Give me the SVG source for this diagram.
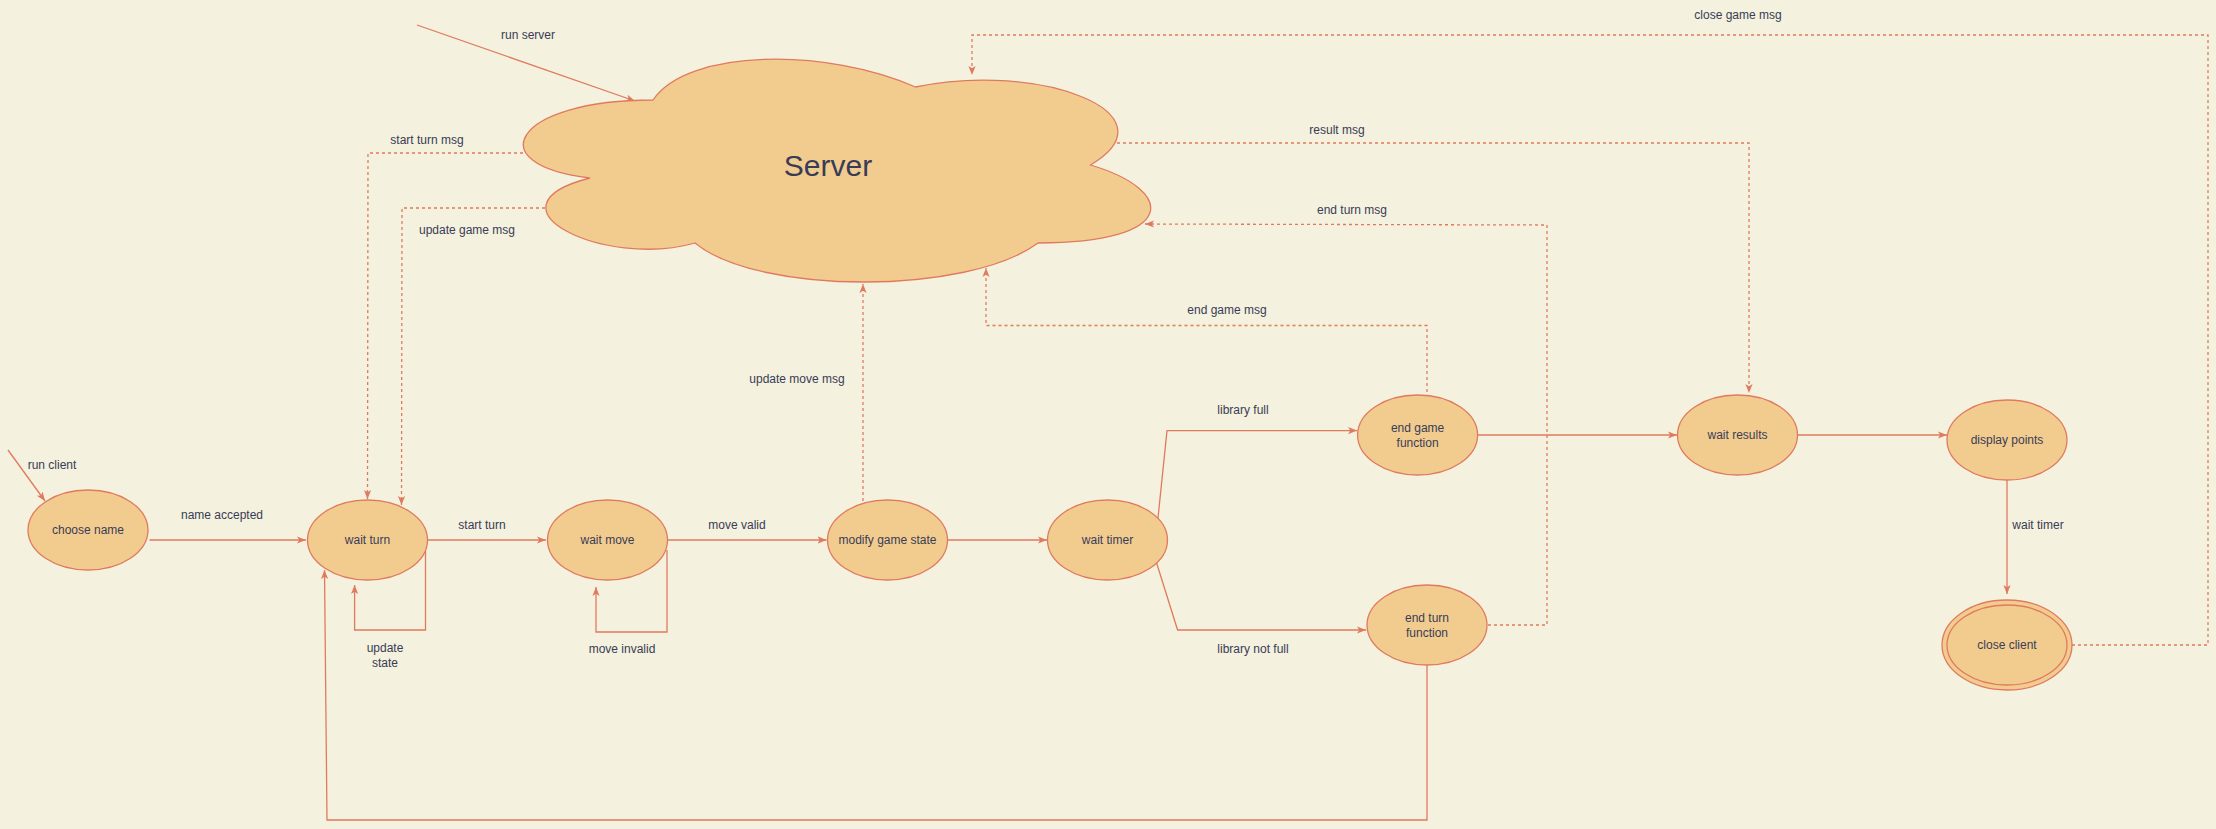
<svg xmlns="http://www.w3.org/2000/svg" width="2216" height="829" viewBox="0 0 2216 829">
<style>
.bg{fill:#F4F1DE}
.node{fill:#F2CC8F;stroke:#E07A5F;stroke-width:1.3}
.edge{fill:none;stroke:#E07A5F;stroke-width:1.3}
.dash{stroke-dasharray:3 3}
text{font-family:"Liberation Sans",Arial,sans-serif;font-size:12px;fill:#393C56;text-anchor:middle}
.big{font-size:30px}
</style>
<defs>
<marker id="arr" viewBox="0 0 10 10" refX="10" refY="5" markerWidth="9" markerHeight="9" markerUnits="userSpaceOnUse" orient="auto">
<path d="M0,1 L10,5 L0,9 L2.5,5 Z" fill="#E07A5F"/>
</marker>
</defs>
<rect class="bg" x="0" y="0" width="2216" height="829"/>

<g id="connectors">
<path class="edge" d="M417,25 L635,101" marker-end="url(#arr)"/>
<path class="edge" d="M8,450 L45,501" marker-end="url(#arr)"/>
<path class="edge" d="M149.5,540 L306,540" marker-end="url(#arr)"/>
<path class="edge" d="M425.5,551 L425.5,630 L354.6,630 L354.6,585" marker-end="url(#arr)"/>
<path class="edge" d="M427.5,540 L546,540" marker-end="url(#arr)"/>
<path class="edge" d="M667,550 L667,632 L596,632 L596,587" marker-end="url(#arr)"/>
<path class="edge" d="M667.3,540 L826.5,540" marker-end="url(#arr)"/>
<path class="edge" d="M947.4,540 L1047,540" marker-end="url(#arr)"/>
<path class="edge" d="M1158,518 L1167,430.6 L1357,430.6" marker-end="url(#arr)"/>
<path class="edge" d="M1156.6,563 L1177.6,630 L1366,630" marker-end="url(#arr)"/>
<path class="edge" d="M1477.6,435 L1677,435" marker-end="url(#arr)"/>
<path class="edge" d="M1797,435 L1947,435" marker-end="url(#arr)"/>
<path class="edge" d="M2007,480 L2007,594" marker-end="url(#arr)"/>
<path class="edge" d="M1427,665 L1427,820 L327,820 L324.5,570" marker-end="url(#arr)"/>

<path class="edge dash" d="M523,153 L368,153 L367.5,499" marker-end="url(#arr)"/>
<path class="edge dash" d="M545,208 L402,208 L401.5,505" marker-end="url(#arr)"/>
<path class="edge dash" d="M863,501 L863,284" marker-end="url(#arr)"/>
<path class="edge dash" d="M1427,392 L1427,325.5 L986,325.5 L986,268" marker-end="url(#arr)"/>
<path class="edge dash" d="M1488,625 L1547,625 L1547,225 L1145,224" marker-end="url(#arr)"/>
<path class="edge dash" d="M1117,143 L1749,143 L1749,393" marker-end="url(#arr)"/>
<path class="edge dash" d="M2072,645 L2208,645 L2208,35 L972,35 L972,75" marker-end="url(#arr)"/>

<text x="528" y="39">run server</text>
<text x="52" y="469">run client</text>
<text x="222" y="519">name accepted</text>
<text x="482" y="529">start turn</text>
<text x="737" y="529">move valid</text>
<text x="385" y="652">update</text>
<text x="385" y="667">state</text>
<text x="622" y="653">move invalid</text>
<text x="797" y="383">update move msg</text>
<text x="1227" y="314">end game msg</text>
<text x="1243" y="414">library full</text>
<text x="1253" y="653">library not full</text>
<text x="427" y="144">start turn msg</text>
<text x="467" y="234">update game msg</text>
<text x="1337" y="134">result msg</text>
<text x="1352" y="214">end turn msg</text>
<text x="1738" y="19">close game msg</text>
<text x="2038" y="529">wait timer</text>
</g>

<g id="server">
<path class="node" d="M653,100 C513,100 478,165 590,178 C478,206.6 604,269 695,243 C758,295 968,295 1038,243 C1178,243 1178,191 1090.5,165 C1178,113 1038,61 915.5,87 C828,48 688,48 653,100 Z"/>
<text class="big" x="828" y="176">Server</text>
</g>

<g id="choose-name">
<ellipse class="node" cx="88" cy="530" rx="60" ry="40"/>
<text x="88" y="534">choose name</text>
</g>
<g id="wait-turn">
<ellipse class="node" cx="367.5" cy="540" rx="60" ry="40"/>
<text x="367.5" y="544">wait turn</text>
</g>
<g id="wait-move">
<ellipse class="node" cx="607.5" cy="540" rx="60" ry="40"/>
<text x="607.5" y="544">wait move</text>
</g>
<g id="modify-game-state">
<ellipse class="node" cx="887.5" cy="540" rx="60" ry="40"/>
<text x="887.5" y="544">modify game state</text>
</g>
<g id="wait-timer">
<ellipse class="node" cx="1107.5" cy="540" rx="60" ry="40"/>
<text x="1107.5" y="544">wait timer</text>
</g>
<g id="end-game-function">
<ellipse class="node" cx="1417.6" cy="435" rx="60" ry="40"/>
<text x="1417.6" y="432">end game</text>
<text x="1417.6" y="447">function</text>
</g>
<g id="end-turn-function">
<ellipse class="node" cx="1427" cy="625" rx="60" ry="40"/>
<text x="1427" y="622">end turn</text>
<text x="1427" y="637">function</text>
</g>
<g id="wait-results">
<ellipse class="node" cx="1737.5" cy="435" rx="60" ry="40"/>
<text x="1737.5" y="439">wait results</text>
</g>
<g id="display-points">
<ellipse class="node" cx="2007" cy="440" rx="60" ry="40"/>
<text x="2007" y="444">display points</text>
</g>
<g id="close-client">
<ellipse class="node" cx="2007" cy="645" rx="65" ry="45"/>
<ellipse class="node" cx="2007" cy="645" rx="60" ry="40"/>
<text x="2007" y="649">close client</text>
</g>
</svg>
